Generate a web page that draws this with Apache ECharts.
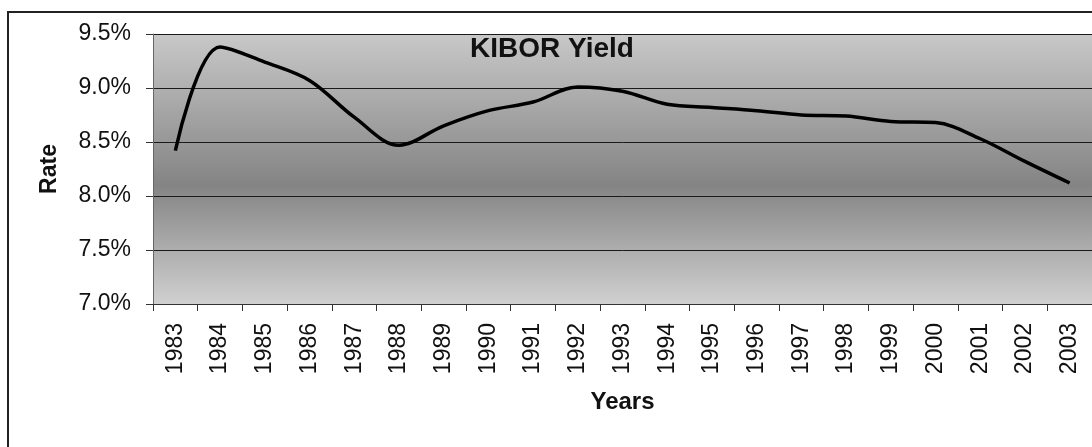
<!DOCTYPE html>
<html>
<head>
<meta charset="utf-8">
<title>KIBOR Yield</title>
<script src="https://cdn.jsdelivr.net/npm/echarts@6.0.0/dist/echarts.min.js"></script>
<style>
    html, body { margin: 0; padding: 0; background: #fff; }
    #chart { width: 1092px; height: 447px; }
</style>
</head>
<body>
<div id="chart"></div>
<script>
// years on the x axis
var years = ['1983', '1984', '1985', '1986', '1987', '1988', '1989', '1990', '1991', '1992', '1993',
             '1994', '1995', '1996', '1997', '1998', '1999', '2000', '2001', '2002', '2003'];
// KIBOR yield, percent
var kibor = [8.42, 9.38, 9.24, 9.07, 8.73, 8.47, 8.65, 8.79, 8.87, 9.01, 8.97,
             8.85, 8.82, 8.79, 8.75, 8.74, 8.69, 8.68, 8.53, 8.32, 8.12];
// y ticks
var yMin = 7.0;
var yMax = 9.5;
var yStep = 0.5;

var FONT = "'Liberation Sans', Arial, sans-serif";

var Chart = echarts.init(document.getElementById('chart'), null, { renderer: 'canvas' });

var option = {
    backgroundColor: '#ffffff',
    animation: false,
    title: {
        text: 'KIBOR Yield',
        left: 470,
        top: 35,
        padding: 0,
        textStyle: { fontFamily: FONT, fontSize: 28, fontWeight: 'bold', color: '#111' }
    },
    graphic: [{
        // outer frame, cut off on the right and bottom like the scan
        type: 'rect',
        silent: true,
        z: -1,
        shape: { x: 8, y: 12, width: 1300, height: 600 },
        style: { fill: null, stroke: '#222', lineWidth: 2 }
    }],
    grid: {
        left: 153,
        right: -16,
        top: 34,
        bottom: 143,
        show: true,
        borderWidth: 0,
        backgroundColor: new echarts.graphic.LinearGradient(0, 0, 0, 1, [
            { offset: 0, color: '#c8c8c8' },
            { offset: 0.56, color: '#848484' },
            { offset: 1, color: '#d0d0d0' }
        ])
    },
    xAxis: {
        type: 'category',
        data: years,
        boundaryGap: true,
        name: 'Years',
        nameLocation: 'middle',
        nameGap: 86,
        nameTextStyle: { fontFamily: FONT, fontSize: 24, fontWeight: 'bold', color: '#111' },
        axisLine: { lineStyle: { color: '#333', width: 1 } },
        axisTick: { show: true, length: 7, lineStyle: { color: '#333' } },
        axisLabel: {
            rotate: 90,
            margin: 19,
            fontFamily: FONT,
            fontSize: 23,
            color: '#111',
            interval: 0
        }
    },
    yAxis: {
        type: 'value',
        min: yMin,
        max: yMax,
        interval: yStep,
        name: 'Rate',
        nameLocation: 'middle',
        nameGap: 92,
        nameRotate: 90,
        nameTextStyle: { fontFamily: FONT, fontSize: 23, fontWeight: 'bold', color: '#111' },
        axisLine: { show: true, lineStyle: { color: '#666', width: 1 } },
        axisTick: { show: true, length: 7, lineStyle: { color: '#333' } },
        axisLabel: {
            margin: 22,
            fontFamily: FONT,
            fontSize: 23,
            color: '#111',
            formatter: function (v) { return v.toFixed(1) + '%'; }
        },
        splitLine: { show: true, lineStyle: { color: '#1a1a1a', width: 1 } }
    },
    series: [{
        name: 'KIBOR Yield',
        type: 'line',
        data: kibor,
        smooth: 0.35,
        symbol: 'none',
        lineStyle: { color: '#000', width: 3.5 }
    }]
};

Chart.setOption(option);
</script>
</body>
</html>
